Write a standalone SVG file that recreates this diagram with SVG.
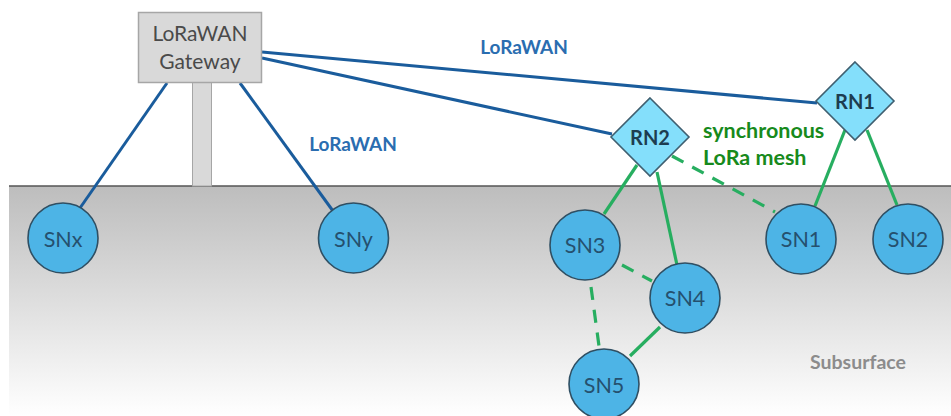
<svg xmlns="http://www.w3.org/2000/svg" width="951" height="416" viewBox="0 0 951 416">
<style>
text{font-family:Lato,"Open Sans","Liberation Sans",sans-serif;text-anchor:middle}
.sn{fill:#4db4e6;stroke:#2f4f63;stroke-width:1.6}
.rn{fill:#84dffb;stroke:#3f5f70;stroke-width:1.6}
.snt{font-size:21.500px;fill:#25506e}
.rnt{font-size:20px;font-weight:700;fill:#1d3d50}
.b{stroke:#1a5c9c;stroke-width:3;fill:none}
.g{stroke:#27ae60;stroke-width:3.2;fill:none}
.d{stroke-dasharray:13 10}
.bl{font-size:19px;font-weight:700;fill:#2a6db0}
.gl{font-size:21.500px;font-weight:700;fill:#178a1c;text-anchor:start}
</style>
<defs><linearGradient id="ground" x1="0" y1="0" x2="0" y2="1"><stop offset="0" stop-color="#bdbdbd"/><stop offset="1" stop-color="#ffffff"/></linearGradient></defs>
<rect width="951" height="416" fill="#fff"/>
<g id="ground-area"><rect x="9" y="186" width="942" height="230" fill="url(#ground)"/><line x1="9" y1="186" x2="951" y2="186" stroke="#555" stroke-width="1.5"/></g>
<g id="pole"><rect x="192.500" y="82" width="19" height="104" fill="#d9d9d9" stroke="#a6a6a6" stroke-width="1"/></g>
<g id="connectors">
<line class="b" x1="262" y1="52" x2="817" y2="103"/>
<line class="b" x1="262" y1="58" x2="612" y2="134"/>
<line class="b" x1="167" y1="83" x2="80" y2="208"/>
<line class="b" x1="240" y1="83" x2="333" y2="211"/>
<line class="g" x1="845" y1="130" x2="815" y2="206"/>
<line class="g" x1="867" y1="130" x2="897" y2="205"/>
<line class="g" x1="637" y1="165" x2="604" y2="214"/>
<line class="g" x1="657" y1="172" x2="677" y2="265"/>
<line class="g" x1="660" y1="327" x2="630" y2="356"/>
<line class="g d" x1="672" y1="156" x2="775" y2="212"/>
<line class="g d" x1="622" y1="265" x2="652" y2="281"/>
<line class="g d" x1="591" y1="287" x2="599" y2="346"/>
</g>
<g id="gateway"><rect x="138.500" y="12.500" width="123" height="70" fill="#d9d9d9" stroke="#a6a6a6" stroke-width="1.500"/><text x="200" y="41" font-size="21" fill="#4a4a4a">LoRaWAN</text><text x="200" y="69" font-size="21" fill="#4a4a4a">Gateway</text></g>
<g id="RN1"><polygon class="rn" points="855,62 894,101 855,140 816,101"/><text class="rnt" x="855" y="109">RN1</text></g>
<g id="RN2"><polygon class="rn" points="650,98 689,137 650,176 611,137"/><text class="rnt" x="650" y="145">RN2</text></g>
<g id="SNx"><circle class="sn" cx="63" cy="238" r="35"/><text class="snt" x="63" y="247">SNx</text></g>
<g id="SNy"><circle class="sn" cx="353.500" cy="238" r="35"/><text class="snt" x="353.500" y="247">SNy</text></g>
<g id="SN1"><circle class="sn" cx="801" cy="239" r="35"/><text class="snt" x="801" y="247">SN1</text></g>
<g id="SN2"><circle class="sn" cx="908" cy="239" r="35"/><text class="snt" x="908" y="247">SN2</text></g>
<g id="SN3"><circle class="sn" cx="585" cy="245" r="35"/><text class="snt" x="585" y="253">SN3</text></g>
<g id="SN4"><circle class="sn" cx="685" cy="298" r="35"/><text class="snt" x="685" y="306">SN4</text></g>
<g id="SN5"><circle class="sn" cx="604" cy="384" r="35"/><text class="snt" x="604" y="393">SN5</text></g>
<g id="labels">
<text class="bl" x="524" y="54">LoRaWAN</text>
<text class="bl" x="353" y="151">LoRaWAN</text>
<text class="gl" x="703" y="138">synchronous</text>
<text class="gl" x="703" y="165">LoRa mesh</text>
<text x="858" y="369" font-size="19.500" font-weight="700" fill="#8c8c8c">Subsurface</text>
</g>
</svg>
